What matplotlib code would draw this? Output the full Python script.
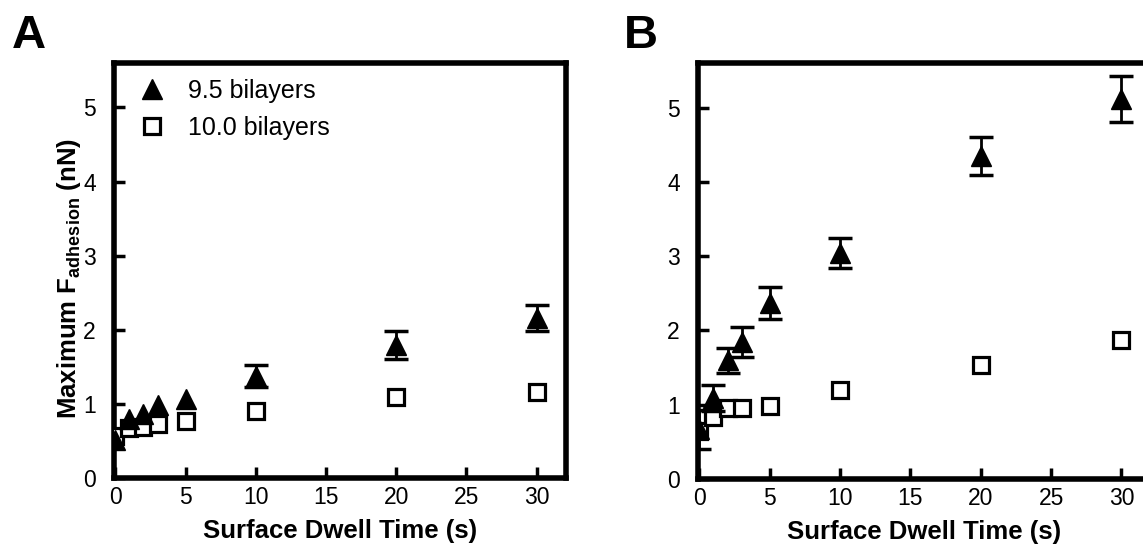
import matplotlib
matplotlib.use("Agg")
import matplotlib.pyplot as plt
from matplotlib.lines import Line2D

plt.rcParams['font.family'] = ['Liberation Sans', 'DejaVu Sans']
plt.rcParams['mathtext.fontset'] = 'custom'
plt.rcParams['mathtext.rm'] = 'Liberation Sans:bold'
plt.rcParams['mathtext.bf'] = 'Liberation Sans:bold'

# Surface dwell times (s)
dwell = [0, 1, 2, 3, 5, 10, 20, 30]

# Panel A: maximum adhesion force (nN)
a_95 = [0.51, 0.80, 0.87, 0.98, 1.07, 1.38, 1.80, 2.16]
a_95_err = [0.0, 0.0, 0.0, 0.0, 0.0, 0.15, 0.19, 0.18]
a_100 = [0.57, 0.67, 0.69, 0.73, 0.77, 0.90, 1.09, 1.16]

# Panel B: maximum adhesion force (nN)
b_95 = [0.67, 1.09, 1.60, 1.84, 2.37, 3.04, 4.35, 5.12]
b_95_err = [0.26, 0.17, 0.17, 0.20, 0.21, 0.20, 0.26, 0.31]
b_100 = [0.64, 0.84, 0.95, 0.95, 0.98, 1.20, 1.53, 1.87]

series_labels = ['9.5 bilayers', '10.0 bilayers']
xticks = [0, 5, 10, 15, 20, 25, 30]
yticks = [0, 1, 2, 3, 4, 5]

W, H = 1143, 544
fig = plt.figure(figsize=(W / 100, H / 100), dpi=100)


def px_axes(left, right, top, bottom):
    return fig.add_axes([left / W, 1 - bottom / H, (right - left) / W, (bottom - top) / H])


axA = px_axes(114, 566, 63, 478)
axB = px_axes(698, 1151, 63, 479)

TRI = dict(marker='^', markersize=14, color='black', markeredgewidth=1.0)
SQ = dict(marker='s', markersize=11.5, markerfacecolor='white',
          markeredgecolor='black', markeredgewidth=2.3)


def draw_panel(ax, tri, tri_err, sq):
    ax.plot(dwell, sq, linestyle='none', zorder=3, **SQ)
    # error bars only where a spread was measured
    idx = [i for i, e in enumerate(tri_err) if e > 0]
    ax.errorbar([dwell[i] for i in idx], [tri[i] for i in idx],
                yerr=[tri_err[i] for i in idx], fmt='none', ecolor='black',
                elinewidth=2.0, capsize=8.6, capthick=2.5, zorder=4)
    ax.plot(dwell, tri, linestyle='none', zorder=5, **TRI)
    ax.set_xlim(-0.1, 32.1)
    ax.set_ylim(0, 5.6)
    ax.set_xticks(xticks)
    ax.set_yticks(yticks)
    ax.tick_params(direction='in', length=8, width=2.5, top=False, right=False,
                   labelsize=16.5)
    ax.tick_params(axis='x', pad=6)
    ax.tick_params(axis='y', pad=13)
    for s in ax.spines.values():
        s.set_linewidth(4)
    ax.set_xlabel('Surface Dwell Time (s)', fontsize=18.5, fontweight='bold', labelpad=7)


draw_panel(axA, a_95, a_95_err, a_100)
draw_panel(axB, b_95, b_95_err, b_100)

axA.set_ylabel(r'Maximum F$_{\mathregular{adhesion}}$ (nN)', fontsize=18.5,
               fontweight='bold')
axA.yaxis.set_label_coords(-0.068, 0.482)

handles = [Line2D([], [], linestyle='none', **TRI),
           Line2D([], [], linestyle='none', **SQ)]
axA.legend(handles, series_labels, loc='upper left', frameon=False,
           fontsize=18, handlelength=1.0, handletextpad=0.94, labelspacing=0.51,
           borderpad=0, borderaxespad=0,
           bbox_to_anchor=(139.5 / W, 1 - 79 / H), bbox_transform=fig.transFigure)

fig.text(12 / W, 1 - 48 / H, 'A', fontsize=34, fontweight='bold')
fig.text(624 / W, 1 - 48 / H, 'B', fontsize=34, fontweight='bold')

fig.savefig('out.png', dpi=100)
